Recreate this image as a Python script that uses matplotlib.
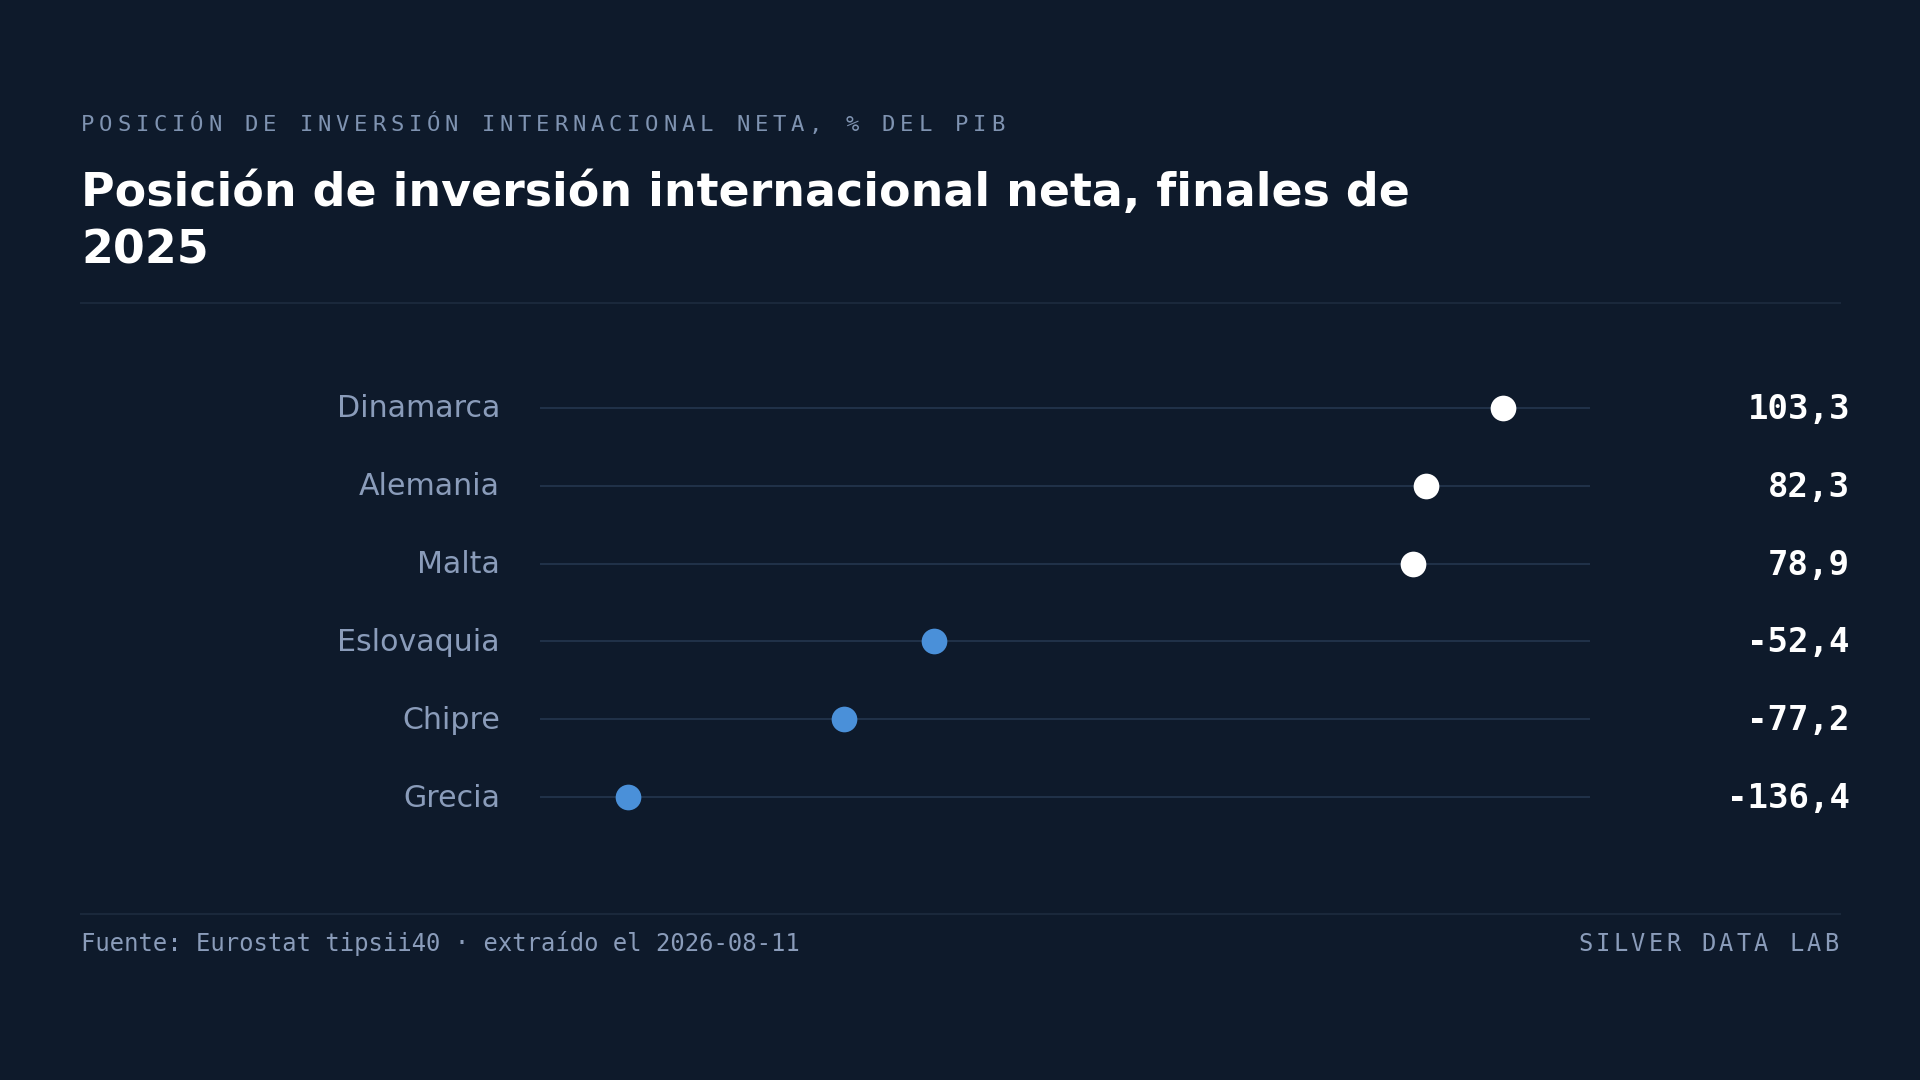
import matplotlib
matplotlib.use("Agg")
import matplotlib.pyplot as plt
import matplotlib.transforms as mtransforms
from matplotlib.lines import Line2D

countries = ["Dinamarca", "Alemania", "Malta", "Eslovaquia", "Chipre", "Grecia"]
niip_pct_gdp = [103.3, 82.3, 78.9, -52.4, -77.2, -136.4]

kicker = "POSICIÓN DE INVERSIÓN INTERNACIONAL NETA, % DEL PIB"
title = "Posición de inversión internacional neta, finales de\n2025"
source = "Fuente: Eurostat tipsii40 · extraído el 2026-08-11"
brand = "SILVER DATA LAB"

BG = "#0e1a2b"
RULE = "#1a283b"
TRACK = "#24364f"
MUTED = "#8a9cba"
POS = "#ffffff"
NEG = "#4a90d9"

W, H = 1920, 1080


def fx(px):
    return px / W


def fy(px):
    return 1 - px / H


def spaced(fig, x_px, y_px, s, adv_px, **kw):
    # monospace with letter spacing, one glyph at a time
    for i, ch in enumerate(s):
        fig.text(fx(x_px + i * adv_px), fy(y_px), ch, ha="left", va="baseline", **kw)


def main() -> None:
    fig = plt.figure(figsize=(19.2, 10.8), dpi=100, facecolor=BG)

    spaced(fig, 81, 131, kicker, 18.2, family="DejaVu Sans Mono",
           fontsize=16, color="#7f93b1")
    # baseline alignment of a two-line text uses the last line
    fig.text(fx(81), fy(263), title, ha="left", va="baseline",
             family="DejaVu Sans", fontweight="bold", fontsize=33,
             color="white", linespacing=1.34)

    fig.add_artist(Line2D([fx(81), fx(1840)], [fy(303), fy(303)],
                          transform=fig.transFigure, color=RULE, lw=1.5))
    fig.add_artist(Line2D([fx(81), fx(1840)], [fy(914), fy(914)],
                          transform=fig.transFigure, color=RULE, lw=1.5))

    left, right = 540, 1590
    top, bottom = 369, 836
    ax = fig.add_axes([fx(left), fy(bottom), fx(right - left), (bottom - top) / H])
    ax.set_facecolor("none")
    for s in ax.spines.values():
        s.set_visible(False)
    ax.set_xticks([])
    ax.set_yticks([])

    lo, hi = min(niip_pct_gdp), max(niip_pct_gdp)
    pad = (hi - lo) * 0.1
    ax.set_xlim(lo - pad, hi + pad)
    ax.set_ylim(len(countries) - 0.5, -0.5)

    trans = mtransforms.blended_transform_factory(fig.transFigure, ax.transData)
    nudge = mtransforms.ScaledTranslation(0, 2 / 100, fig.dpi_scale_trans)
    for i, (name, v) in enumerate(zip(countries, niip_pct_gdp)):
        ax.axhline(i, color=TRACK, lw=1.2, zorder=1)
        col = POS if v >= 0 else NEG
        ax.plot(v, i, "o", ms=18.5, color=col, mew=0, zorder=3)
        fig.text(fx(500), i, name, transform=trans + nudge, ha="right",
                 va="center_baseline", fontsize=21.6, color=MUTED,
                 family="DejaVu Sans")
        fig.text(fx(1850), i, f"{v:.1f}".replace(".", ","), transform=trans + nudge,
                 ha="right", va="center_baseline", fontsize=24.5,
                 fontweight="bold", color="white", family="DejaVu Sans Mono")

    fig.text(fx(81), fy(951), source, ha="left", va="baseline",
             family="DejaVu Sans Mono", fontsize=17.2, color=MUTED)
    spaced(fig, 1578, 951, brand, 17.6, family="DejaVu Sans Mono",
           fontsize=17, color=MUTED)

    fig.savefig("out.png", dpi=100, facecolor=BG)
    plt.close(fig)


if __name__ == "__main__":
    main()
